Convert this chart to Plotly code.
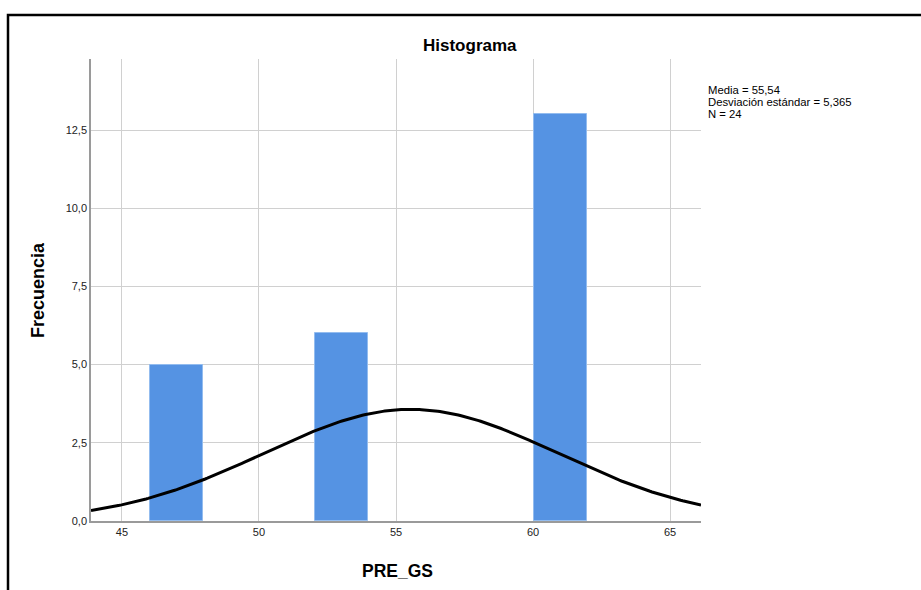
import numpy as np
import plotly.graph_objects as go

# Data
bin_starts = [46, 52, 60]
frequencies = [5, 6, 13]
bin_width = 2.0
mean_val = 55.54
sd_val = 5.365
n_val = 24
x_ticks = [45, 50, 55, 60, 65]
y_ticks = [0, 2.5, 5, 7.5, 10, 12.5]
stats_lines = ["Media = 55,54", "Desviación estándar = 5,365", "N = 24"]

W, H = 921, 590
L, R, T, B = 91, 701, 59, 521  # plot area in pixels


def px(xp):
    return (xp - L) / (R - L)


def py(yp):
    return (B - yp) / (B - T)


bar_draw_w = bin_width * 0.96
centers = [s + bin_width / 2 for s in bin_starts]

fig = go.Figure()
fig.add_trace(go.Bar(
    x=centers, y=frequencies, width=bar_draw_w,
    marker=dict(color="#5593e3", line=dict(color="#93bcef", width=1)),
    hoverinfo="skip", showlegend=False,
))

xr = [43.87, 66.13]
xs = np.linspace(xr[0], xr[1], 300)
ys = n_val * bin_width / (sd_val * np.sqrt(2 * np.pi)) * np.exp(-0.5 * ((xs - mean_val) / sd_val) ** 2)
fig.add_trace(go.Scatter(x=xs, y=ys, mode="lines", line=dict(color="black", width=3),
                         hoverinfo="skip", showlegend=False))

font_family = "Arial, Liberation Sans, sans-serif"

fig.update_layout(
    width=W, height=H,
    margin=dict(l=L, r=W - R, t=T, b=H - B),
    plot_bgcolor="white", paper_bgcolor="white",
    separators=",.",
    font=dict(family=font_family, size=11, color="#222"),
    xaxis=dict(range=xr, tickvals=x_ticks, showgrid=True, gridcolor="#d0d0d0", gridwidth=1,
               showline=True, linecolor="#9a9a9a", linewidth=1.5, zeroline=False,
               ticks="", ticklen=0, tickfont=dict(size=11, color="#222")),
    yaxis=dict(range=[0, 14.77], tickvals=y_ticks, tickformat=".1f", showgrid=True,
               gridcolor="#d0d0d0", gridwidth=1, showline=True, linecolor="#9a9a9a",
               linewidth=1.5, zeroline=False, ticks="", ticklen=0,
               tickfont=dict(size=11, color="#222")),
    bargap=0,
)

annotations = [
    dict(text="<b>Histograma</b>", x=px(470), y=py(45), xref="paper", yref="paper",
         showarrow=False, font=dict(size=17, color="black", family=font_family),
         xanchor="center", yanchor="middle"),
    dict(text="<b>Frecuencia</b>", x=px(38), y=py(290), xref="paper", yref="paper",
         showarrow=False, textangle=-90, font=dict(size=18, color="black", family=font_family),
         xanchor="center", yanchor="middle"),
    dict(text="<b>PRE_GS</b>", x=px(397), y=py(571), xref="paper", yref="paper",
         showarrow=False, font=dict(size=17.5, color="black", family=font_family),
         xanchor="center", yanchor="middle"),
]
for i, line in enumerate(stats_lines):
    annotations.append(dict(text=line, x=px(707), y=py(90 + 12 * i), xref="paper", yref="paper",
                            showarrow=False, align="left", borderpad=0,
                            font=dict(size=11.3, color="black", family=font_family),
                            xanchor="left", yanchor="middle"))
fig.update_layout(annotations=annotations)

# outer frame (left and top edges)
fig.add_shape(type="path",
              path=f"M {px(8)} {py(600)} L {px(8)} {py(15)} L {px(930)} {py(15)}",
              xref="paper", yref="paper", line=dict(color="black", width=2.5), layer="above")

fig.write_html("out.html", config={"displayModeBar": False},
               post_script="document.body.style.margin='0px';")
